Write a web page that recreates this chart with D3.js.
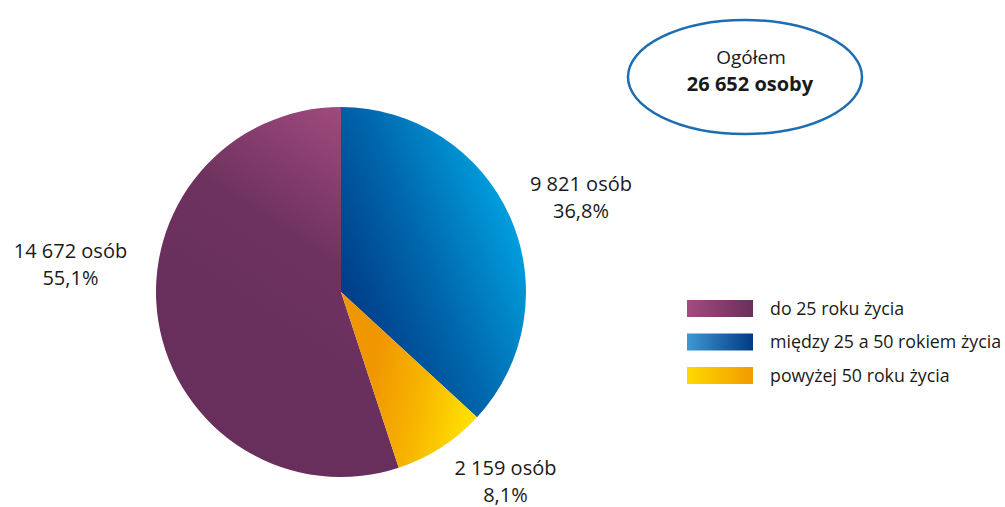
<!DOCTYPE html>
<html>
<head>
<meta charset="utf-8">
<script src="https://cdn.jsdelivr.net/npm/d3@7/dist/d3.min.js"></script>
<style>
  html, body { margin: 0; padding: 0; background: #fff; }
  svg { display: block; }
  text { font-family: "Open Sans", "DejaVu Sans", sans-serif; fill: #1a1a1a; }
</style>
</head>
<body>
<svg id="chart" width="1005" height="507"></svg>
<script>
// Age groups (legend order) and number of people in each
const categories = ["do 25 roku życia", "między 25 a 50 rokiem życia", "powyżej 50 roku życia"];
const values = [14672, 9821, 2159];
// Order in which the slices are laid out clockwise from 12 o'clock
const sliceOrder = [1, 2, 0];
const totalLabel = "Ogółem";
const unitPeople = "osób";
const unitTotal = "osoby";

const svg = d3.select("#chart");
const cx = 341, cy = 292, R = 185;

const total = d3.sum(values);
const fmtInt = v => d3.format(",")(v).replace(/,/g, " ");
const fmtPct = v => d3.format(".1f")(v * 100).replace(".", ",") + "%";

const defs = svg.append("defs");

// Slice gradients, in coordinates relative to the pie centre
const sliceGrad = [
  { id: "g-purple", x1: -150, y1: 40,  x2: 0,   y2: -R,  stops: ["#682f5c", "#6e325f", "#a04a7e"] },
  { id: "g-blue",   x1: 5,    y1: 10,  x2: 175, y2: -60, stops: ["#003c87", "#0068ad", "#009ddd"] },
  { id: "g-yellow", x1: 25,   y1: 110, x2: 125, y2: 130, stops: ["#f09600", "#f7b400", "#ffdd00"] }
];
sliceGrad.forEach(g => {
  const lg = defs.append("linearGradient").attr("id", g.id)
    .attr("gradientUnits", "userSpaceOnUse")
    .attr("x1", g.x1).attr("y1", g.y1).attr("x2", g.x2).attr("y2", g.y2);
  g.stops.forEach((c, i) => lg.append("stop")
    .attr("offset", i / (g.stops.length - 1)).attr("stop-color", c));
});

// Legend swatch gradients (left to right)
const legendGrad = [
  { id: "l-purple", stops: ["#a34b7f", "#6a2f5c"] },
  { id: "l-blue",   stops: ["#3f98d3", "#003a85"] },
  { id: "l-yellow", stops: ["#ffd900", "#f39a00"] }
];
legendGrad.forEach(g => {
  const lg = defs.append("linearGradient").attr("id", g.id)
    .attr("x1", 0).attr("y1", 0).attr("x2", 1).attr("y2", 0);
  g.stops.forEach((c, i) => lg.append("stop")
    .attr("offset", i).attr("stop-color", c));
});

const pie = d3.pie()
  .sort((a, b) => sliceOrder.indexOf(a) - sliceOrder.indexOf(b))
  .value(i => values[i]);
const arcs = pie(d3.range(values.length));
const arc = d3.arc().innerRadius(0).outerRadius(R);

const pieG = svg.append("g").attr("transform", `translate(${cx},${cy})`);
pieG.selectAll("path.slice").data(arcs).enter().append("path")
  .attr("class", "slice")
  .attr("d", arc)
  .attr("fill", d => `url(#${sliceGrad[d.data].id})`);

// Value labels placed outside the pie along each slice's mid angle
const fs = 20;
const labelRadius = [274, 250, 230];
const labelNudge = [[0, -77], [11, -1], [40, -10]];
arcs.forEach(d => {
  const i = d.data;
  const a = (d.startAngle + d.endAngle) / 2;
  const x = labelRadius[i] * Math.sin(a) + labelNudge[i][0];
  const y = -labelRadius[i] * Math.cos(a) + labelNudge[i][1];
  const t = pieG.append("text").attr("text-anchor", "middle").attr("font-size", fs);
  t.append("tspan").attr("x", x).attr("y", y).text(`${fmtInt(values[i])} ${unitPeople}`);
  t.append("tspan").attr("x", x).attr("y", y + 27).text(fmtPct(values[i] / total));
});

// Total box
const ex = 745, ey = 77;
svg.append("ellipse").attr("cx", ex).attr("cy", ey).attr("rx", 117).attr("ry", 57)
  .attr("fill", "#fff").attr("stroke", "#1d6db3").attr("stroke-width", 2.5);
svg.append("text").attr("x", ex + 6).attr("y", 64).attr("text-anchor", "middle")
  .attr("font-size", 19).text(totalLabel);
svg.append("text").attr("x", ex + 5).attr("y", 91).attr("text-anchor", "middle")
  .attr("font-size", 20).attr("font-weight", "bold").text(`${fmtInt(total)} ${unitTotal}`);

// Legend
const legend = svg.append("g").attr("transform", "translate(687,300)");
const rowY = d3.scaleBand().domain(d3.range(categories.length)).range([0, 100.5]);
categories.forEach((c, i) => {
  const row = legend.append("g").attr("transform", `translate(0,${rowY(i)})`);
  row.append("rect").attr("width", 66).attr("height", 17)
    .attr("fill", `url(#${legendGrad[i].id})`);
  row.append("text").attr("x", 83).attr("y", 14.5).attr("font-size", 17.8).text(c);
});
</script>
</body>
</html>
